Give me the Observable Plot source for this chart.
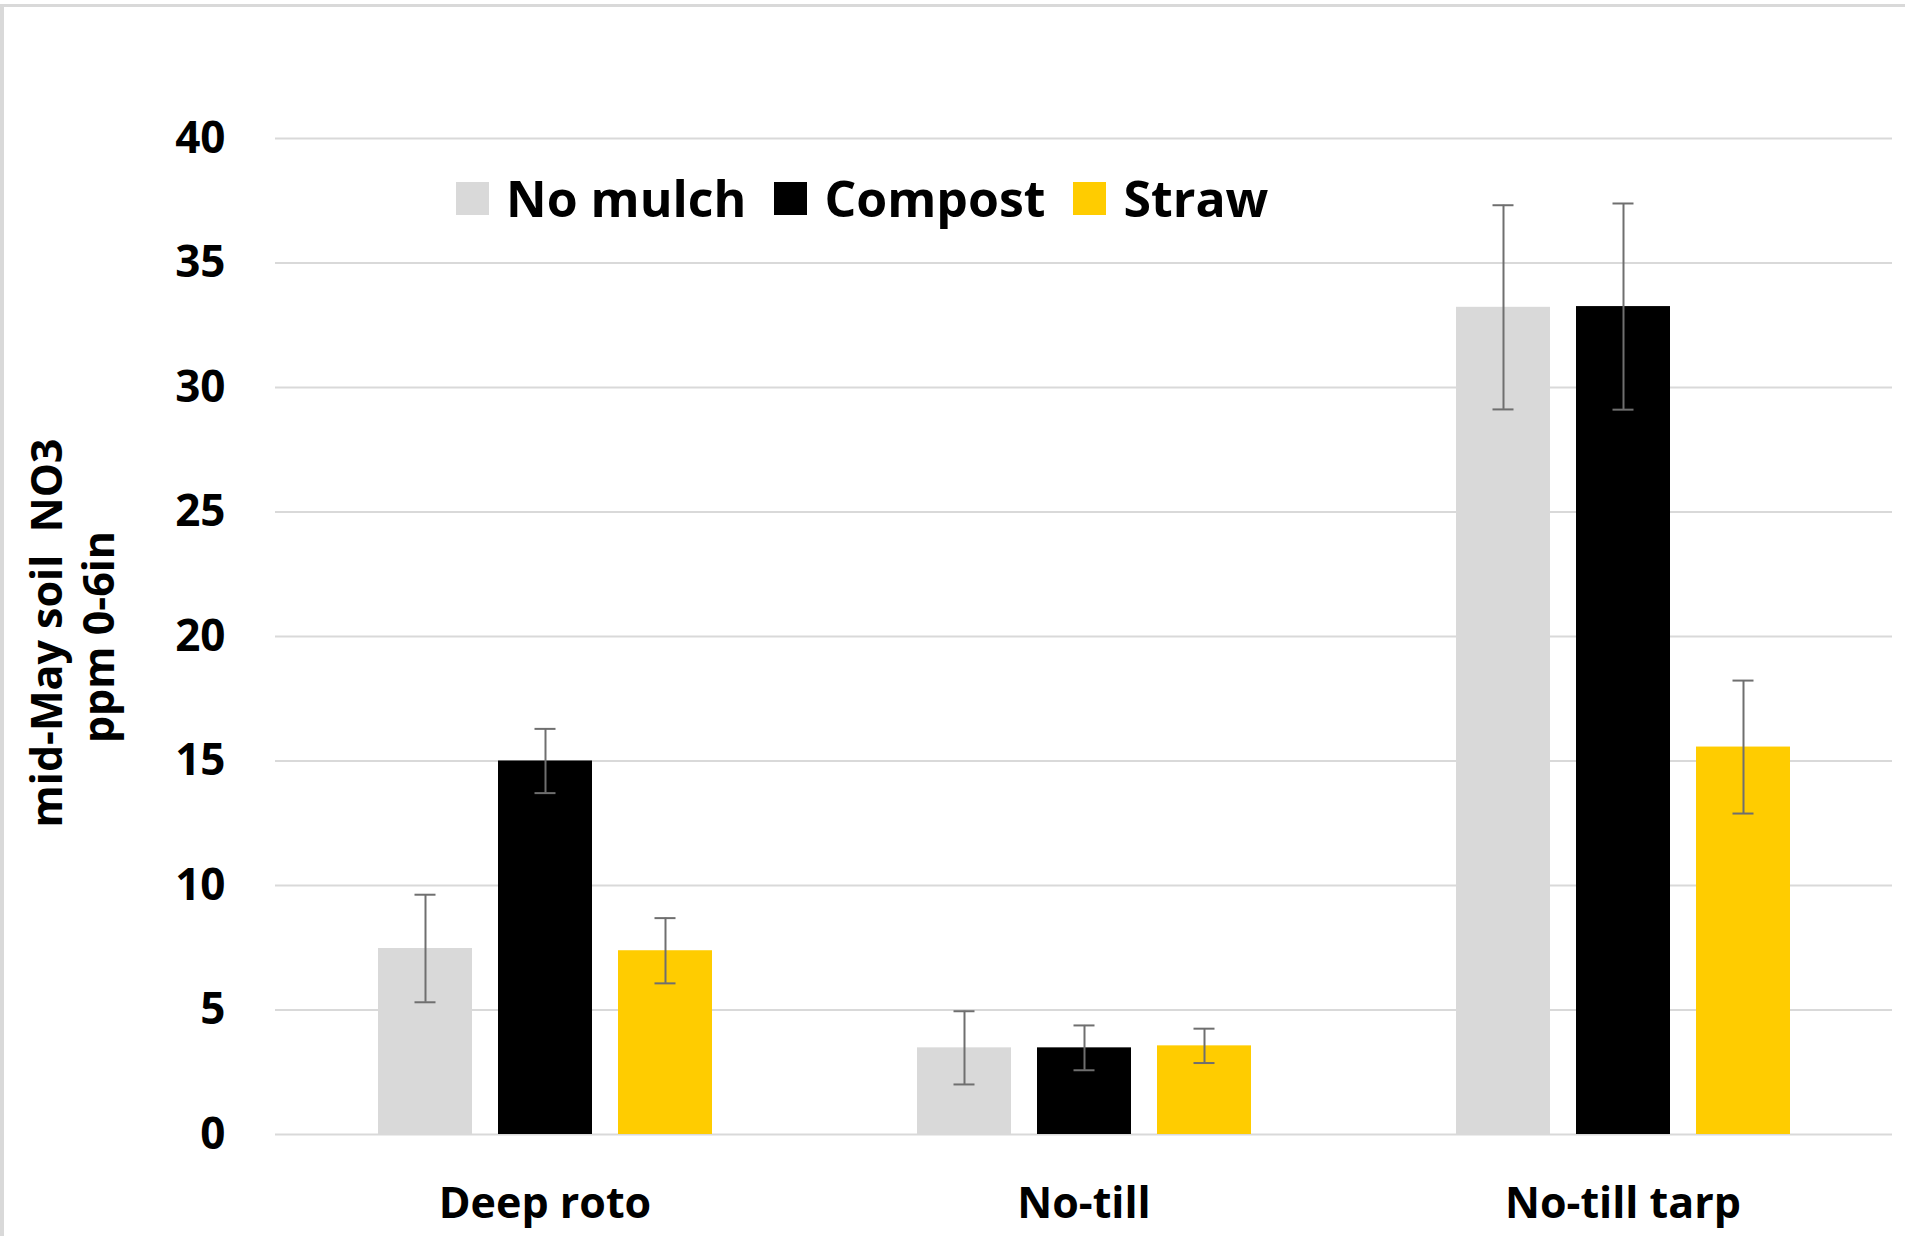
<!DOCTYPE html>
<html>
<head>
<meta charset="utf-8">
<script src="https://cdn.jsdelivr.net/npm/d3@7"></script>
<script src="https://cdn.jsdelivr.net/npm/@observablehq/plot@0.6"></script>
<style>
  html, body { margin: 0; padding: 0; background: #fff; }
  #wrap { position: relative; width: 1905px; height: 1236px; overflow: hidden; background: #fff; }
  #frame { position: absolute; left: 0; top: 4px; width: 1905px; height: 1232px; border-top: 3px solid #d9d9d9; border-left: 4px solid #d9d9d9; box-sizing: border-box; pointer-events: none; }
  #legend { position: absolute; left: 456px; top: 173px; display: flex; align-items: center; font-family: "Open Sans", sans-serif; font-weight: bold; font-size: 50px; line-height: 1; color: #000; }
  #legend .item { display: flex; align-items: center; margin-right: 28px; }
  #legend .sw { width: 33px; height: 33px; margin-right: 17px; }
  #chart svg { display: block; }
</style>
</head>
<body>
<div id="wrap">
  <div id="chart"></div>
  <div id="legend"></div>
  <div id="frame"></div>
</div>
<script>
const treatments = ["Deep roto", "No-till", "No-till tarp"];
const mulches = ["No mulch", "Compost", "Straw"];
const mulchColors = ["#d9d9d9", "#000000", "#ffcc00"];
const noMulchValues = [7.47, 3.48, 33.22];
const compostValues = [15.0, 3.48, 33.25];
const strawValues = [7.38, 3.56, 15.56];
const noMulchErr = [2.16, 1.47, 4.1];
const compostErr = [1.29, 0.9, 4.14];
const strawErr = [1.31, 0.69, 2.67];
const yTicks = [0, 5, 10, 15, 20, 25, 30, 35, 40];
const yLabelLines = ["mid-May soil  NO3", "ppm 0-6in"];

const seriesValues = [noMulchValues, compostValues, strawValues];
const seriesErr = [noMulchErr, compostErr, strawErr];
const data = [];
treatments.forEach((t, i) => {
  mulches.forEach((m, j) => {
    data.push({ treatment: t, mulch: m, value: seriesValues[j][i], err: seriesErr[j][i] });
  });
});

const errColor = "#6f6f6f";
const plot = Plot.plot({
  width: 1905,
  height: 1236,
  marginLeft: 275,
  marginRight: 13,
  marginTop: 138,
  marginBottom: 102,
  style: { background: "transparent", color: "#000", fontFamily: "'Open Sans', sans-serif" },
  fx: { domain: treatments, padding: 0, label: null },
  x: { domain: mulches, paddingInner: 0.217, paddingOuter: 0.853, axis: null },
  y: { domain: [0, 40], label: null },
  color: { domain: mulches, range: mulchColors },
  marks: [
    Plot.ruleY(yTicks, { stroke: "#d9d9d9", strokeWidth: 2 }),
    Plot.barY(data, { fx: "treatment", x: "mulch", y: "value", fill: "mulch" }),
    Plot.ruleX(data, { fx: "treatment", x: "mulch", y1: d => d.value - d.err, y2: d => d.value + d.err, stroke: errColor, strokeWidth: 2 }),
    Plot.tickY(data, { fx: "treatment", x: "mulch", y: d => d.value - d.err, insetLeft: 36.5, insetRight: 36.5, stroke: errColor, strokeWidth: 2 }),
    Plot.tickY(data, { fx: "treatment", x: "mulch", y: d => d.value + d.err, insetLeft: 36.5, insetRight: 36.5, stroke: errColor, strokeWidth: 2 }),
    Plot.axisY({ ticks: yTicks, tickSize: 0, tickPadding: 50, fontSize: 44, fontWeight: "bold", label: null }),
    Plot.axisFx({ anchor: "bottom", tickSize: 0, tickPadding: 53, fontSize: 43, fontWeight: "bold", label: null })
  ]
});
document.getElementById("chart").appendChild(plot);

// Y axis title (two lines, rotated)
const svg = d3.select(plot);
const yl = svg.append("g")
  .attr("font-family", "'Open Sans', sans-serif")
  .attr("font-weight", "bold")
  .attr("font-size", 43)
  .attr("fill", "#000")
  .attr("text-anchor", "middle");
yl.append("text").attr("transform", "translate(62,633) rotate(-90)").attr("xml:space", "preserve").style("white-space", "pre").text(yLabelLines[0]);
yl.append("text").attr("transform", "translate(114,637) rotate(-90)").text(yLabelLines[1]);

// Legend
const legend = d3.select("#legend");
mulches.forEach((m, j) => {
  const item = legend.append("div").attr("class", "item");
  item.append("div").attr("class", "sw").style("background", mulchColors[j]);
  item.append("span").text(m);
});
</script>
</body>
</html>
